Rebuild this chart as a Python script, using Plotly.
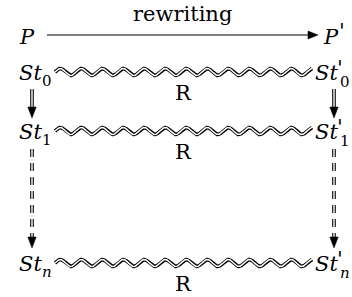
import numpy as np
import plotly.graph_objects as go

# ---------------- content ----------------
top_label = "rewriting"
prog_left = "P"
prog_right = "P"
prime = "<i>'</i>"
state_base = "St"
state_subs = ["0", "1", "n"]
rel_label = "R"

# ---------------- layout (pixel space) ----------------
W, H = 352, 297
col_x = [32, 334]            # vertical arrow columns
row_y = [72, 131, 263]       # wavy relation rows
prog_y = 35                  # P -> P' row
wave_span = [55, 312]
wave_period = 21
wave_amp = 3.5
arrow_dashed = [False, True]
vert_spans = [(89, 118), (149, 248)]   # start, tip

FONT = "DejaVu Serif"
FS = 21
SUB = 15
PR = 21

fig = go.Figure()


def add_line(xs, ys, width, color="black", dash="solid"):
    fig.add_trace(go.Scatter(x=xs, y=ys, mode="lines", hoverinfo="skip",
                             line=dict(color=color, width=width, dash=dash),
                             showlegend=False))


def add_head(tip, direction, length=10, half=4.2):
    tx, ty = tip
    dx, dy = direction
    bx, by = tx - dx * length, ty - dy * length
    px, py = -dy, dx
    xs = [tx, bx + px * half, bx - px * half, tx]
    ys = [ty, by + py * half, by - py * half, ty]
    fig.add_trace(go.Scatter(x=xs, y=ys, mode="lines", fill="toself",
                             fillcolor="black", line=dict(color="black", width=0.5),
                             hoverinfo="skip", showlegend=False))


# wavy double relation lines
for yc in row_y:
    xs = np.linspace(wave_span[0], wave_span[1], 600)
    ys = yc - wave_amp * np.sin(2 * np.pi * (xs - wave_span[0]) / wave_period)
    add_line(xs, ys, 3.6)
    add_line(xs, ys, 1.5, color="white")

# P -> P' arrow
add_line([47, 310], [prog_y, prog_y], 1.1)
add_head((318, prog_y), (1, 0), length=10, half=4)

# vertical double arrows
for cx in col_x:
    for (y0, tip), dashed in zip(vert_spans, arrow_dashed):
        base = tip - 10
        d = "8px,6px" if dashed else "solid"
        add_line([cx, cx], [y0, base + 1], 3.6, dash=d)
        add_line([cx, cx], [y0, base + 1], 1.4, color="white", dash=d)
        add_head((cx, tip), (0, 1), length=11, half=4.2)

ann = []


def text(x, y, s, size=FS, xa="center", ya="middle"):
    ann.append(dict(x=x, y=y, text=s, showarrow=False, xanchor=xa, yanchor=ya,
                    font=dict(family=FONT, size=size, color="black")))


text(182, 14, top_label)
text(27, 37, "<i>%s</i>" % prog_left)
text(321, 37, "<i>%s</i>" % prog_right, xa="left")
text(337, 31, prime, size=PR, xa="left")

for yc, sub in zip(row_y, state_subs):
    # left node
    text(44, yc + 1, "<i>%s</i>" % state_base, xa="right")
    text(40, yc + 9, "<i>%s</i>" % sub if sub == "n" else sub, size=SUB, xa="left")
    # right node
    text(313, yc + 1, "<i>%s</i>" % state_base, xa="left")
    text(335, yc - 4, prime, size=PR, xa="left")
    text(338, yc + 10, "<i>%s</i>" % sub if sub == "n" else sub, size=SUB, xa="left")
    # relation label
    text(183, yc + 21, rel_label)

fig.update_layout(
    width=W, height=H, margin=dict(l=0, r=0, t=0, b=0),
    paper_bgcolor="white", plot_bgcolor="white",
    xaxis=dict(range=[0, W], visible=False, fixedrange=True),
    yaxis=dict(range=[H, 0], visible=False, fixedrange=True),
    annotations=ann, showlegend=False,
)
fig.write_html("out.html", config={"displayModeBar": False},
               post_script="document.body.style.margin='0';")
